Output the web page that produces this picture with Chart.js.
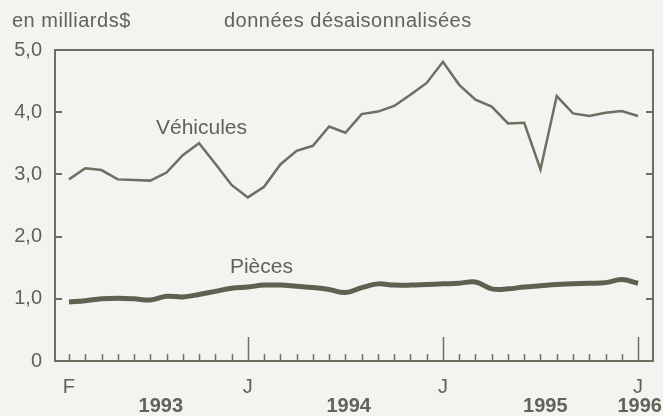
<!DOCTYPE html>
<html>
<head>
<meta charset="utf-8">
<script src="https://cdn.jsdelivr.net/npm/chart.js@4"></script>
<style>
  body { margin: 0; background: #f3f3f0; }
  #wrap { position: relative; width: 663px; height: 416px; }
  .lbl { position: absolute; font-family: "Liberation Sans", Arial, sans-serif; font-size: 20px; letter-spacing: 0.5px; color: #5f6358; }
</style>
</head>
<body>
<div id="wrap">
  <div class="lbl" style="left:12px; top:9px;">en milliards$</div>
  <div class="lbl" style="left:224px; top:9px;">données désaisonnalisées</div>
  <canvas id="chart" width="663" height="416"></canvas>
</div>
<script>
// mois de février 1993 à janvier 1996
const mois = ['F','M','A','M','J','J','A','S','O','N','D','J',
              'F','M','A','M','J','J','A','S','O','N','D','J',
              'F','M','A','M','J','J','A','S','O','N','D','J'];
const vehicules = [2.92, 3.10, 3.07, 2.92, 2.91, 2.90, 3.03, 3.31, 3.50, 3.17, 2.83, 2.63,
                   2.80, 3.16, 3.38, 3.46, 3.77, 3.67, 3.97, 4.01, 4.10, 4.28, 4.47, 4.81,
                   4.44, 4.20, 4.09, 3.82, 3.83, 3.08, 4.26, 3.98, 3.94, 3.99, 4.02, 3.94];
const pieces = [0.95, 0.97, 1.00, 1.01, 1.00, 0.98, 1.04, 1.03, 1.07, 1.12, 1.17, 1.19,
                1.22, 1.22, 1.20, 1.18, 1.15, 1.10, 1.18, 1.24, 1.22, 1.22, 1.23, 1.24,
                1.25, 1.27, 1.16, 1.16, 1.19, 1.21, 1.23, 1.24, 1.25, 1.26, 1.31, 1.25];
const xLabels = { 0: 'F', 11: 'J', 23: 'J', 35: 'J' };
const annees = ['1993', '1994', '1995', '1996'];
const yTicks = [0, 1, 2, 3, 4, 5];

const couleur = '#6b7060';
const texte = '#5f6358';
const police = '"Liberation Sans", Arial, sans-serif';

// positions des annees sous l'axe (en mois)
const posAnnees = [5.65, 17.2, 29.3, 35.1];
const majeurs = [11, 23, 35];

const decor = {
  id: 'decor',
  afterDraw(chart) {
    const ctx = chart.ctx;
    const a = chart.chartArea;
    const x = chart.scales.x, y = chart.scales.y;
    ctx.save();
    ctx.strokeStyle = couleur;
    ctx.lineWidth = 2;
    ctx.strokeRect(a.left, a.top, a.right - a.left, a.bottom - a.top);
    // petites graduations du bas
    ctx.lineWidth = 1.5;
    mois.forEach((m, i) => {
      const px = Math.round(x.getPixelForValue(i)) + 0.5;
      const h = majeurs.includes(i) ? 24 : 7;
      ctx.beginPath();
      ctx.moveTo(px, a.bottom);
      ctx.lineTo(px, a.bottom - h);
      ctx.stroke();
    });
    // graduations gauche et droite
    ctx.lineWidth = 2;
    yTicks.forEach(v => {
      const py = Math.round(y.getPixelForValue(v));
      ctx.beginPath();
      ctx.moveTo(a.left, py); ctx.lineTo(a.left + 7, py);
      ctx.moveTo(a.right, py); ctx.lineTo(a.right - 7, py);
      ctx.stroke();
    });
    // annees
    ctx.fillStyle = texte;
    ctx.font = 'bold 20px ' + police;
    ctx.textAlign = 'center';
    ctx.textBaseline = 'middle';
    annees.forEach((an, k) => {
      ctx.fillText(an, x.getPixelForValue(posAnnees[k]), 406);
    });
    // noms des series
    ctx.font = '21px ' + police;
    ctx.textAlign = 'left';
    ctx.fillText('Véhicules', x.getPixelForValue(5.35), y.getPixelForValue(3.75));
    ctx.fillText('Pièces', x.getPixelForValue(9.9), y.getPixelForValue(1.5));
    ctx.restore();
  }
};

new Chart(document.getElementById('chart'), {
  type: 'line',
  data: {
    datasets: [
      {
        label: 'Véhicules',
        data: vehicules.map((v, i) => ({ x: i, y: v })),
        borderColor: couleur,
        borderWidth: 2.5,
        pointRadius: 0,
        tension: 0
      },
      {
        label: 'Pièces',
        data: pieces.map((v, i) => ({ x: i, y: v })),
        borderColor: '#5c6150',
        borderWidth: 5,
        pointRadius: 0,
        tension: 0.4
      }
    ]
  },
  options: {
    responsive: false,
    animation: false,
    layout: { padding: { top: 50, right: 10, left: 0, bottom: 0 } },
    plugins: { legend: { display: false }, tooltip: { enabled: false } },
    scales: {
      x: {
        type: 'linear',
        min: -0.86,
        max: 35.92,
        grid: { display: false, drawTicks: false },
        border: { display: false },
        afterFit: s => { s.height = 55; },
        afterBuildTicks: s => { s.ticks = Object.keys(xLabels).map(k => ({ value: Number(k) })); },
        ticks: {
          autoSkip: false,
          maxRotation: 0,
          padding: 14,
          color: texte,
          font: { family: police, size: 20 },
          callback: v => xLabels[v] || ''
        }
      },
      y: {
        min: 0,
        max: 5,
        grid: { display: false, drawTicks: false },
        border: { display: false },
        afterFit: s => { s.width = 55; },
        ticks: {
          stepSize: 1,
          padding: 13,
          color: texte,
          font: { family: police, size: 20 },
          callback: v => v === 0 ? '0' : v.toFixed(1).replace('.', ',')
        }
      }
    }
  },
  plugins: [decor]
});
</script>
</body>
</html>
